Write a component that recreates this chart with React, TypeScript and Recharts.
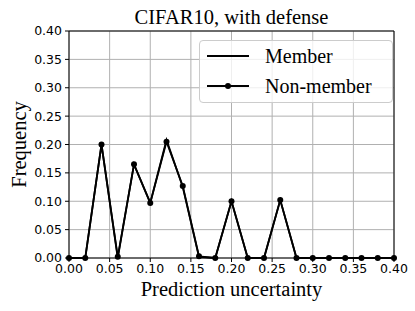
import React from 'react';
import { LineChart, Line, XAxis, YAxis, CartesianGrid, ReferenceLine, Label } from 'recharts';

const uncertainty = [0, 0.02, 0.04, 0.06, 0.08, 0.1, 0.12, 0.14, 0.16, 0.18, 0.2, 0.22, 0.24, 0.26, 0.28, 0.3, 0.32, 0.34, 0.36, 0.38, 0.4];
const member = [0, 0, 0.2, 0, 0.165, 0.097, 0.208, 0.125, 0.002, 0, 0.1, 0, 0, 0.102, 0, 0, 0, 0, 0, 0, 0];
const nonMember = [0, 0, 0.2, 0.002, 0.165, 0.097, 0.205, 0.127, 0.003, 0, 0.1, 0, 0, 0.102, 0, 0, 0, 0, 0, 0, 0];
const xTicks = [0, 0.05, 0.1, 0.15, 0.2, 0.25, 0.3, 0.35, 0.4];
const yTicks = [0, 0.05, 0.1, 0.15, 0.2, 0.25, 0.3, 0.35, 0.4];
const seriesNames = ['Member', 'Non-member'];

const data = uncertainty.map((u, i) => ({ u, member: member[i], nonMember: nonMember[i] }));

const serif = '"Liberation Serif", "Times New Roman", serif';
const sans = '"DejaVu Sans", sans-serif';

const LegendBox = () => (
  <div
    style={{
      position: 'absolute',
      left: 199,
      top: 40,
      width: 194,
      height: 63,
      border: '1px solid #cccccc',
      borderRadius: 4,
      background: 'rgba(255,255,255,0.8)',
      boxSizing: 'border-box',
      fontFamily: serif,
      fontSize: 20,
      color: '#000',
    }}
  >
    {seriesNames.map((name, i) => (
      <div key={name} style={{ position: 'absolute', left: 7, top: 2 + i * 30, height: 26, display: 'flex', alignItems: 'center' }}>
        <svg width={42} height={10} style={{ display: 'block' }}>
          <line x1={0} y1={5} x2={42} y2={5} stroke="#000" strokeWidth={1.8} />
          {i === 1 && <circle cx={21} cy={5} r={3} fill="#000" />}
        </svg>
        <span style={{ marginLeft: 16, lineHeight: '26px' }}>{name}</span>
      </div>
    ))}
  </div>
);

export default function App() {
  return (
    <div style={{ position: 'absolute', left: 0, top: 0, width: 415, height: 311, background: '#fff' }}>
      <LineChart width={415} height={311} data={data} margin={{ top: 31, right: 21, bottom: 0, left: 0 }}>
        <CartesianGrid stroke="#b0b0b0" strokeWidth={1} />
        <XAxis
          dataKey="u"
          type="number"
          domain={[0, 0.4]}
          ticks={xTicks}
          tickFormatter={(v: number) => v.toFixed(2)}
          height={53}
          tickSize={4}
          tickMargin={2}
          stroke="#000"
          tick={{ fill: '#000', fontFamily: sans, fontSize: 12.5 }}
          interval={0}
        >
          <Label value="Prediction uncertainty" position="insideBottom" offset={15} style={{ fontFamily: serif, fontSize: 20.5, fill: '#000' }} />
        </XAxis>
        <YAxis
          type="number"
          domain={[0, 0.4]}
          ticks={yTicks}
          tickFormatter={(v: number) => v.toFixed(2)}
          width={69}
          tickSize={4}
          tickMargin={3}
          stroke="#000"
          tick={{ fill: '#000', fontFamily: sans, fontSize: 12.5 }}
          interval={0}
        >
          <Label value="Frequency" angle={-90} position="insideLeft" offset={19} style={{ fontFamily: serif, fontSize: 20.5, fill: '#000', textAnchor: 'middle' }} />
        </YAxis>
        <ReferenceLine x={0.4} stroke="#000" strokeWidth={1} />
        <ReferenceLine y={0.4} stroke="#000" strokeWidth={1}>
          <Label value="CIFAR10, with defense" position="top" offset={7} style={{ fontFamily: serif, fontSize: 20.5, fill: '#000' }} />
        </ReferenceLine>
        <Line dataKey="member" name="Member" stroke="#000" strokeWidth={1.8} dot={false} isAnimationActive={false} />
        <Line dataKey="nonMember" name="Non-member" stroke="#000" strokeWidth={1.8} dot={{ r: 3, fill: '#000', stroke: '#000', strokeWidth: 0 }} isAnimationActive={false} />
      </LineChart>
      <LegendBox />
    </div>
  );
}
